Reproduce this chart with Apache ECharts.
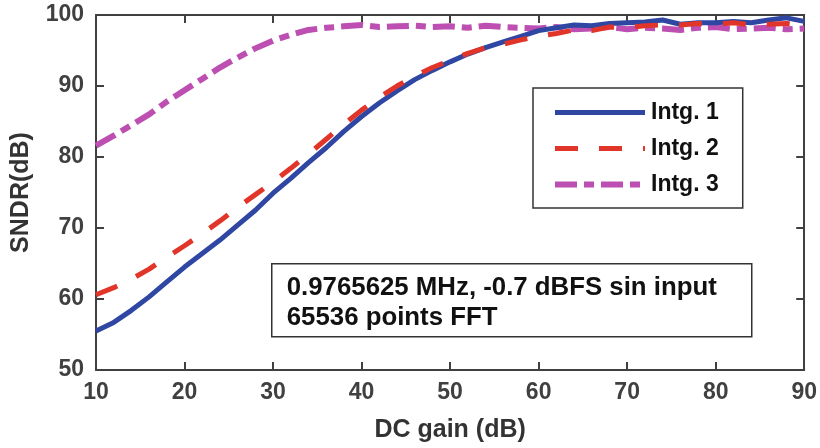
<!DOCTYPE html>
<html>
<head>
<meta charset="utf-8">
<script src="https://cdn.jsdelivr.net/npm/echarts@6/dist/echarts.min.js"></script>
<style>
html,body{margin:0;padding:0;background:#fff;}
#chart{width:820px;height:448px;}
</style>
</head>
<body>
<div id="chart"></div>
<script>
var dcGain = [10,12,14,16,18,20,22,24,26,28,30,32,34,36,38,40,42,44,46,48,50,52,54,56,58,60,62,64,66,68,70,72,74,76,78,80,82,84,86,88,90];
var intg1 = [55.5,56.7,58.4,60.3,62.4,64.5,66.4,68.3,70.4,72.5,74.9,77.0,79.2,81.3,83.6,85.7,87.6,89.3,90.9,92.2,93.4,94.5,95.4,96.2,97.0,97.8,98.2,98.6,98.5,98.8,98.9,99.0,99.3,98.7,98.9,98.9,99.1,98.9,99.3,99.6,99.1];
var intg2 = [60.6,61.6,62.8,64.2,65.9,67.5,69.2,71.0,72.9,74.7,76.5,78.4,80.4,82.5,84.6,86.6,88.4,90.0,91.4,92.6,93.6,94.6,95.4,95.9,96.5,97.0,97.4,97.9,97.8,98.3,98.2,98.5,98.6,98.6,98.8,98.7,98.9,98.6,98.7,98.8,98.6];
var intg3 = [81.6,83.0,84.5,86.0,87.8,89.4,91.0,92.6,94.0,95.3,96.4,97.2,97.9,98.2,98.4,98.6,98.3,98.4,98.5,98.3,98.4,98.2,98.5,98.3,98.2,98.1,98.3,98.0,98.1,98.3,98.0,98.2,98.1,97.9,98.2,98.3,98.0,98.1,98.2,98.0,98.1];
var seriesNames = ['Intg. 1','Intg. 2','Intg. 3'];
var xTicks = [10,20,30,40,50,60,70,80,90];
var yTicks = [50,60,70,80,90,100];
var noteLines = ['0.9765625 MHz, -0.7 dBFS sin input','65536 points FFT'];

var FONT = "'Liberation Sans', Arial, Helvetica, sans-serif";
var AX = '#404040';
function pairs(ys){ return dcGain.map(function(x,i){ return [x, ys[i]]; }); }

var chart = echarts.init(document.getElementById('chart'), null, {renderer:'canvas'});
var axisCommon = {
  axisLine:{show:true, onZero:false, lineStyle:{color:AX, width:2}},
  axisTick:{show:true, inside:true, length:8, lineStyle:{color:AX, width:2}},
  splitLine:{show:false}
};
chart.setOption({
  animation:false,
  backgroundColor:'#fff',
  grid:{left:96, right:15, top:15, bottom:75},
  xAxis:[
    Object.assign({type:'value', min:10, max:90, interval:10, position:'bottom',
      name:'DC gain (dB)', nameLocation:'middle', nameGap:48,
      nameTextStyle:{fontFamily:FONT, fontWeight:'bold', fontSize:25, color:'#333'},
      axisLabel:{margin:11, fontFamily:FONT, fontWeight:'bold', fontSize:23, color:AX,
        formatter:function(v){ return xTicks.indexOf(v)>=0 ? String(v) : ''; }}
    }, axisCommon),
    Object.assign({type:'value', min:10, max:90, interval:10, position:'top', axisLabel:{show:false}}, axisCommon)
  ],
  yAxis:[
    Object.assign({type:'value', min:50, max:100, interval:10, position:'left',
      name:'SNDR(dB)', nameLocation:'middle', nameGap:62, nameRotate:90,
      nameTextStyle:{fontFamily:FONT, fontWeight:'bold', fontSize:25, color:'#333'},
      axisLabel:{margin:12, fontFamily:FONT, fontWeight:'bold', fontSize:23, color:AX,
        formatter:function(v){ return yTicks.indexOf(v)>=0 ? String(v) : ''; }}
    }, axisCommon),
    Object.assign({type:'value', min:50, max:100, interval:10, position:'right', axisLabel:{show:false}}, axisCommon)
  ],
  legend:{
    orient:'vertical', left:533, top:88,
    data:seriesNames,
    itemWidth:90, itemHeight:24, itemGap:13,
    padding:[13,24,12,19],
    backgroundColor:'#fff', borderColor:'#333', borderWidth:1.5,
    textStyle:{fontFamily:FONT, fontWeight:'bold', fontSize:23, color:'#111', padding:[0,0,0,1]},
    lineStyle:{width:'inherit'},
    itemStyle:{opacity:0}
  },
  graphic:[{
    type:'group', left:271, top:263,
    children:[
      {type:'rect', shape:{x:0,y:0,width:480,height:73}, style:{fill:'#fff', stroke:'#333', lineWidth:1.5}},
      {type:'text', left:15, top:9, style:{text:noteLines.join('\n'), font:"bold 25.8px "+FONT, fill:'#111', lineHeight:30}}
    ]
  }],
  series:[
    {name:seriesNames[0], type:'line', data:pairs(intg1), symbol:'none', smooth:false, z:3,
      lineStyle:{color:'#2f47a2', width:5, type:'solid'}, itemStyle:{color:'#2f47a2'}},
    {name:seriesNames[1], type:'line', data:pairs(intg2), symbol:'none', smooth:false, z:4,
      lineStyle:{color:'#e2352a', width:5, type:[23,21]}, itemStyle:{color:'#e2352a'}},
    {name:seriesNames[2], type:'line', data:pairs(intg3), symbol:'none', smooth:false, z:2,
      lineStyle:{color:'#bc4fb1', width:6, type:[22,7,10,7]}, itemStyle:{color:'#bc4fb1'}}
  ]
});
</script>
</body>
</html>
